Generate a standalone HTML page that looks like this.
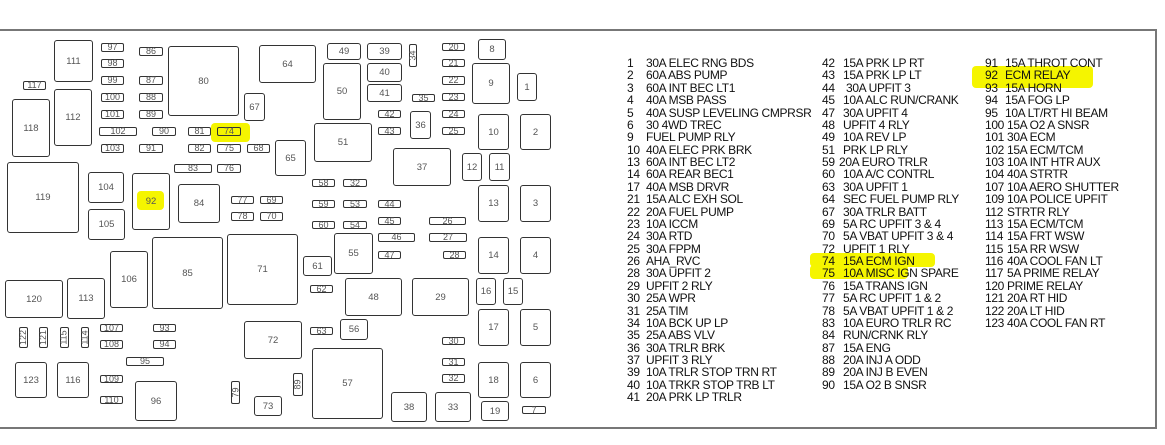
<!DOCTYPE html>
<html><head><meta charset="utf-8"><style>
html,body{margin:0;padding:0;background:#fff;}
body{width:1165px;height:445px;position:relative;overflow:hidden;font-family:"Liberation Sans",sans-serif;}
.frame{position:absolute;left:-3px;top:29px;width:1158px;height:396px;border:2px solid #777;border-left:none;}
.b,.s{position:absolute;box-sizing:border-box;border:1.4px solid #333;border-radius:3px;display:flex;align-items:center;justify-content:center;font-size:9.5px;color:#555;background:transparent;}
.s{border-width:1.2px;border-radius:2px;font-size:9px;line-height:1;}
.v span{display:inline-block;transform:rotate(-90deg);white-space:nowrap;}
.hl{position:absolute;background:#f5f500;border-radius:4px;}
.r{position:absolute;font-size:12px;letter-spacing:-0.35px;color:#111;white-space:nowrap;line-height:12px;}
</style></head><body>
<div class="frame"></div>
<!-- highlights -->
<div class="hl" style="left:211px;top:123px;width:39px;height:19px"></div>
<div class="hl" style="left:137px;top:191px;width:27px;height:19px"></div>
<div class="hl" style="left:972px;top:66px;width:121px;height:22px"></div>
<div class="hl" style="left:810px;top:253px;width:125px;height:14px"></div>
<div class="hl" style="left:810px;top:265px;width:98px;height:14px"></div>

<!-- diagram -->
<div class="b" style="left:54px;top:40px;width:39px;height:42px">111</div>
<div class="s" style="left:101px;top:43px;width:23px;height:9px">97</div>
<div class="s" style="left:101px;top:59px;width:23px;height:9px">98</div>
<div class="s" style="left:139px;top:47px;width:24px;height:9px">86</div>
<div class="b" style="left:168px;top:46px;width:71px;height:70px">80</div>
<div class="b" style="left:259px;top:45px;width:57px;height:38px">64</div>
<div class="s" style="left:23px;top:81px;width:23px;height:9px">117</div>
<div class="s" style="left:101px;top:76px;width:23px;height:9px">99</div>
<div class="s" style="left:139px;top:76px;width:24px;height:9px">87</div>
<div class="b" style="left:12px;top:99px;width:38px;height:58px">118</div>
<div class="b" style="left:54px;top:89px;width:38px;height:57px">112</div>
<div class="s" style="left:101px;top:93px;width:23px;height:9px">100</div>
<div class="s" style="left:139px;top:93px;width:24px;height:9px">88</div>
<div class="b" style="left:244px;top:93px;width:21px;height:28px">67</div>
<div class="s" style="left:101px;top:110px;width:23px;height:9px">101</div>
<div class="s" style="left:139px;top:110px;width:24px;height:9px">89</div>
<div class="s" style="left:99px;top:127px;width:38px;height:9px">102</div>
<div class="s" style="left:152px;top:127px;width:24px;height:9px">90</div>
<div class="s" style="left:188px;top:127px;width:23px;height:9px">81</div>
<div class="s" style="left:217px;top:127px;width:24px;height:9px">74</div>
<div class="s" style="left:101px;top:144px;width:23px;height:9px">103</div>
<div class="s" style="left:139px;top:144px;width:24px;height:9px">91</div>
<div class="s" style="left:188px;top:144px;width:23px;height:9px">82</div>
<div class="s" style="left:217px;top:144px;width:24px;height:9px">75</div>
<div class="s" style="left:247px;top:144px;width:23px;height:9px">68</div>
<div class="b" style="left:275px;top:140px;width:31px;height:36px">65</div>
<div class="b" style="left:7px;top:162px;width:72px;height:71px">119</div>
<div class="s" style="left:174px;top:164px;width:38px;height:9px">83</div>
<div class="s" style="left:217px;top:164px;width:24px;height:9px">76</div>
<div class="b" style="left:88px;top:172px;width:36px;height:31px">104</div>
<div class="b" style="left:132px;top:173px;width:38px;height:57px">92</div>
<div class="b" style="left:178px;top:184px;width:42px;height:39px">84</div>
<div class="s" style="left:231px;top:196px;width:23px;height:8px">77</div>
<div class="s" style="left:260px;top:196px;width:23px;height:8px">69</div>
<div class="s" style="left:231px;top:212px;width:23px;height:9px">78</div>
<div class="s" style="left:260px;top:212px;width:23px;height:9px">70</div>
<div class="b" style="left:88px;top:209px;width:37px;height:31px">105</div>

<div class="b" style="left:152px;top:237px;width:71px;height:72px">85</div>
<div class="b" style="left:227px;top:234px;width:71px;height:71px">71</div>
<div class="b" style="left:110px;top:251px;width:38px;height:57px">106</div>
<div class="b" style="left:5px;top:280px;width:58px;height:38px">120</div>
<div class="b" style="left:67px;top:278px;width:38px;height:41px">113</div>
<div class="s" style="left:100px;top:324px;width:23px;height:8px">107</div>
<div class="s" style="left:153px;top:324px;width:23px;height:8px">93</div>
<div class="s v" style="left:19px;top:327px;width:9px;height:21px"><span>122</span></div>
<div class="s v" style="left:39px;top:327px;width:9px;height:21px"><span>121</span></div>
<div class="s v" style="left:60px;top:327px;width:9px;height:21px"><span>115</span></div>
<div class="s v" style="left:81px;top:327px;width:8px;height:21px"><span>114</span></div>
<div class="s" style="left:100px;top:340px;width:23px;height:9px">108</div>
<div class="s" style="left:153px;top:340px;width:23px;height:9px">94</div>
<div class="b" style="left:244px;top:321px;width:58px;height:38px">72</div>
<div class="s" style="left:126px;top:357px;width:38px;height:9px">95</div>
<div class="b" style="left:15px;top:362px;width:32px;height:36px">123</div>
<div class="b" style="left:57px;top:362px;width:32px;height:36px">116</div>
<div class="s" style="left:100px;top:375px;width:23px;height:8px">109</div>
<div class="s" style="left:100px;top:396px;width:23px;height:8px">110</div>
<div class="b" style="left:135px;top:381px;width:42px;height:40px">96</div>
<div class="s v" style="left:231px;top:381px;width:9px;height:23px"><span>79</span></div>
<div class="b" style="left:254px;top:396px;width:28px;height:20px">73</div>
<div class="s v" style="left:293px;top:373px;width:10px;height:23px"><span>89</span></div>

<div class="b" style="left:327px;top:43px;width:34px;height:17px">49</div>
<div class="b" style="left:367px;top:43px;width:35px;height:17px">39</div>
<div class="s v" style="left:409px;top:44px;width:8px;height:23px"><span>34</span></div>
<div class="s" style="left:442px;top:43px;width:23px;height:8px">20</div>
<div class="b" style="left:478px;top:39px;width:28px;height:21px">8</div>
<div class="b" style="left:323px;top:63px;width:38px;height:57px">50</div>
<div class="b" style="left:367px;top:63px;width:35px;height:19px">40</div>
<div class="s" style="left:442px;top:59px;width:23px;height:8px">21</div>
<div class="b" style="left:472px;top:63px;width:38px;height:41px">9</div>
<div class="b" style="left:517px;top:73px;width:20px;height:28px">1</div>
<div class="s" style="left:442px;top:76px;width:23px;height:9px">22</div>
<div class="b" style="left:367px;top:84px;width:35px;height:18px">41</div>
<div class="s" style="left:412px;top:94px;width:23px;height:8px">35</div>
<div class="s" style="left:442px;top:93px;width:23px;height:8px">23</div>
<div class="s" style="left:378px;top:110px;width:23px;height:8px">42</div>
<div class="b" style="left:410px;top:111px;width:21px;height:28px">36</div>
<div class="s" style="left:442px;top:110px;width:23px;height:8px">24</div>
<div class="b" style="left:478px;top:114px;width:31px;height:36px">10</div>
<div class="b" style="left:520px;top:114px;width:31px;height:36px">2</div>
<div class="s" style="left:378px;top:127px;width:23px;height:8px">43</div>
<div class="s" style="left:442px;top:127px;width:23px;height:8px">25</div>
<div class="b" style="left:314px;top:123px;width:58px;height:39px">51</div>
<div class="b" style="left:393px;top:148px;width:58px;height:38px">37</div>
<div class="b" style="left:462px;top:153px;width:20px;height:28px">12</div>
<div class="b" style="left:489px;top:153px;width:21px;height:28px">11</div>
<div class="s" style="left:312px;top:179px;width:23px;height:8px">58</div>
<div class="s" style="left:343px;top:179px;width:24px;height:8px">32</div>
<div class="b" style="left:478px;top:185px;width:31px;height:37px">13</div>
<div class="b" style="left:520px;top:185px;width:31px;height:37px">3</div>
<div class="s" style="left:312px;top:200px;width:23px;height:8px">59</div>
<div class="s" style="left:343px;top:200px;width:24px;height:8px">53</div>
<div class="s" style="left:378px;top:200px;width:23px;height:8px">44</div>
<div class="s" style="left:312px;top:221px;width:23px;height:8px">60</div>
<div class="s" style="left:343px;top:221px;width:24px;height:8px">54</div>
<div class="s" style="left:378px;top:217px;width:23px;height:8px">45</div>
<div class="s" style="left:429px;top:217px;width:37px;height:8px">26</div>

<div class="s" style="left:378px;top:233px;width:37px;height:9px">46</div>
<div class="s" style="left:429px;top:233px;width:38px;height:9px">27</div>
<div class="b" style="left:478px;top:237px;width:31px;height:37px">14</div>
<div class="b" style="left:520px;top:237px;width:31px;height:37px">4</div>
<div class="b" style="left:334px;top:233px;width:39px;height:41px">55</div>
<div class="s" style="left:378px;top:251px;width:23px;height:8px">47</div>
<div class="s" style="left:443px;top:251px;width:23px;height:8px">28</div>
<div class="b" style="left:303px;top:256px;width:29px;height:20px">61</div>
<div class="s" style="left:310px;top:285px;width:23px;height:8px">62</div>
<div class="b" style="left:345px;top:278px;width:57px;height:38px">48</div>
<div class="b" style="left:412px;top:278px;width:57px;height:38px">29</div>
<div class="b" style="left:476px;top:278px;width:20px;height:27px">16</div>
<div class="b" style="left:503px;top:278px;width:20px;height:27px">15</div>
<div class="b" style="left:478px;top:309px;width:31px;height:37px">17</div>
<div class="b" style="left:520px;top:309px;width:31px;height:37px">5</div>
<div class="s" style="left:310px;top:327px;width:23px;height:8px">63</div>
<div class="b" style="left:340px;top:319px;width:28px;height:21px">56</div>
<div class="s" style="left:442px;top:337px;width:23px;height:8px">30</div>
<div class="b" style="left:312px;top:348px;width:71px;height:71px">57</div>
<div class="s" style="left:442px;top:358px;width:23px;height:8px">31</div>
<div class="s" style="left:442px;top:374px;width:23px;height:9px">32</div>
<div class="b" style="left:478px;top:362px;width:31px;height:36px">18</div>
<div class="b" style="left:520px;top:362px;width:31px;height:36px">6</div>
<div class="b" style="left:391px;top:392px;width:36px;height:30px">38</div>
<div class="b" style="left:435px;top:392px;width:36px;height:30px">33</div>
<div class="b" style="left:481px;top:401px;width:28px;height:20px">19</div>
<div class="s" style="left:522px;top:406px;width:24px;height:8px">7</div>

<!-- legend col1 -->
<div class="r" style="left:627px;top:57px">1</div><div class="r" style="left:646px;top:57px">30A ELEC RNG BDS</div>
<div class="r" style="left:627px;top:69px">2</div><div class="r" style="left:646px;top:69px">60A ABS PUMP</div>
<div class="r" style="left:627px;top:82px">3</div><div class="r" style="left:646px;top:82px">60A INT BEC LT1</div>
<div class="r" style="left:627px;top:94px">4</div><div class="r" style="left:646px;top:94px">40A MSB PASS</div>
<div class="r" style="left:627px;top:107px">5</div><div class="r" style="left:646px;top:107px">40A SUSP LEVELING CMPRSR</div>
<div class="r" style="left:627px;top:119px">6</div><div class="r" style="left:646px;top:119px">30 4WD TREC</div>
<div class="r" style="left:627px;top:131px">9</div><div class="r" style="left:646px;top:131px">FUEL PUMP RLY</div>
<div class="r" style="left:627px;top:144px">10</div><div class="r" style="left:646px;top:144px">40A ELEC PRK BRK</div>
<div class="r" style="left:627px;top:156px">13</div><div class="r" style="left:646px;top:156px">60A INT BEC LT2</div>
<div class="r" style="left:627px;top:168px">14</div><div class="r" style="left:646px;top:168px">60A REAR BEC1</div>
<div class="r" style="left:627px;top:181px">17</div><div class="r" style="left:646px;top:181px">40A MSB DRVR</div>
<div class="r" style="left:627px;top:193px">21</div><div class="r" style="left:646px;top:193px">15A ALC EXH SOL</div>
<div class="r" style="left:627px;top:206px">22</div><div class="r" style="left:646px;top:206px">20A FUEL PUMP</div>
<div class="r" style="left:627px;top:218px">23</div><div class="r" style="left:646px;top:218px">10A ICCM</div>
<div class="r" style="left:627px;top:230px">24</div><div class="r" style="left:646px;top:230px">30A RTD</div>
<div class="r" style="left:627px;top:243px">25</div><div class="r" style="left:646px;top:243px">30A FPPM</div>
<div class="r" style="left:627px;top:255px">26</div><div class="r" style="left:646px;top:255px">AHA_RVC</div>
<div class="r" style="left:627px;top:267px">28</div><div class="r" style="left:646px;top:267px">30A UPFIT 2</div>
<div class="r" style="left:627px;top:280px">29</div><div class="r" style="left:646px;top:280px">UPFIT 2 RLY</div>
<div class="r" style="left:627px;top:292px">30</div><div class="r" style="left:646px;top:292px">25A WPR</div>
<div class="r" style="left:627px;top:305px">31</div><div class="r" style="left:646px;top:305px">25A TIM</div>
<div class="r" style="left:627px;top:317px">34</div><div class="r" style="left:646px;top:317px">10A BCK UP LP</div>
<div class="r" style="left:627px;top:329px">35</div><div class="r" style="left:646px;top:329px">25A ABS VLV</div>
<div class="r" style="left:627px;top:342px">36</div><div class="r" style="left:646px;top:342px">30A TRLR BRK</div>
<div class="r" style="left:627px;top:354px">37</div><div class="r" style="left:646px;top:354px">UPFIT 3 RLY</div>
<div class="r" style="left:627px;top:366px">39</div><div class="r" style="left:646px;top:366px">10A TRLR STOP TRN RT</div>
<div class="r" style="left:627px;top:379px">40</div><div class="r" style="left:646px;top:379px">10A TRKR STOP TRB LT</div>
<div class="r" style="left:627px;top:391px">41</div><div class="r" style="left:646px;top:391px">20A PRK LP TRLR</div>
<!-- col2 -->
<div class="r" style="left:822px;top:57px">42</div><div class="r" style="left:843px;top:57px">15A PRK LP RT</div>
<div class="r" style="left:822px;top:69px">43</div><div class="r" style="left:843px;top:69px">15A PRK LP LT</div>
<div class="r" style="left:822px;top:82px">44</div><div class="r" style="left:846px;top:82px">30A UPFIT 3</div>
<div class="r" style="left:822px;top:94px">45</div><div class="r" style="left:843px;top:94px">10A ALC RUN/CRANK</div>
<div class="r" style="left:822px;top:107px">47</div><div class="r" style="left:843px;top:107px">30A UPFIT 4</div>
<div class="r" style="left:822px;top:119px">48</div><div class="r" style="left:843px;top:119px">UPFIT 4 RLY</div>
<div class="r" style="left:822px;top:131px">49</div><div class="r" style="left:843px;top:131px">10A REV LP</div>
<div class="r" style="left:822px;top:144px">51</div><div class="r" style="left:843px;top:144px">PRK LP RLY</div>
<div class="r" style="left:822px;top:156px">59</div><div class="r" style="left:839px;top:156px">20A EURO TRLR</div>
<div class="r" style="left:822px;top:168px">60</div><div class="r" style="left:843px;top:168px">10A A/C CONTRL</div>
<div class="r" style="left:822px;top:181px">63</div><div class="r" style="left:843px;top:181px">30A UPFIT 1</div>
<div class="r" style="left:822px;top:193px">64</div><div class="r" style="left:843px;top:193px">SEC FUEL PUMP RLY</div>
<div class="r" style="left:822px;top:206px">67</div><div class="r" style="left:843px;top:206px">30A TRLR BATT</div>
<div class="r" style="left:822px;top:218px">69</div><div class="r" style="left:843px;top:218px">5A RC UPFIT 3 &amp; 4</div>
<div class="r" style="left:822px;top:230px">70</div><div class="r" style="left:843px;top:230px">5A VBAT UPFIT 3 &amp; 4</div>
<div class="r" style="left:822px;top:243px">72</div><div class="r" style="left:843px;top:243px">UPFIT 1 RLY</div>
<div class="r" style="left:822px;top:255px">74</div><div class="r" style="left:843px;top:255px">15A ECM IGN</div>
<div class="r" style="left:822px;top:267px">75</div><div class="r" style="left:843px;top:267px">10A MISC IGN SPARE</div>
<div class="r" style="left:822px;top:280px">76</div><div class="r" style="left:843px;top:280px">15A TRANS IGN</div>
<div class="r" style="left:822px;top:292px">77</div><div class="r" style="left:843px;top:292px">5A RC UPFIT 1 &amp; 2</div>
<div class="r" style="left:822px;top:305px">78</div><div class="r" style="left:843px;top:305px">5A VBAT UPFIT 1 &amp; 2</div>
<div class="r" style="left:822px;top:317px">83</div><div class="r" style="left:843px;top:317px">10A EURO TRLR RC</div>
<div class="r" style="left:822px;top:329px">84</div><div class="r" style="left:843px;top:329px">RUN/CRNK RLY</div>
<div class="r" style="left:822px;top:342px">87</div><div class="r" style="left:843px;top:342px">15A ENG</div>
<div class="r" style="left:822px;top:354px">88</div><div class="r" style="left:843px;top:354px">20A INJ A ODD</div>
<div class="r" style="left:822px;top:366px">89</div><div class="r" style="left:843px;top:366px">20A INJ B EVEN</div>
<div class="r" style="left:822px;top:379px">90</div><div class="r" style="left:843px;top:379px">15A O2 B SNSR</div>
<!-- col3 -->
<div class="r" style="left:985px;top:57px">91</div><div class="r" style="left:1005px;top:57px">15A THROT CONT</div>
<div class="r" style="left:985px;top:69px">92</div><div class="r" style="left:1005px;top:69px">ECM RELAY</div>
<div class="r" style="left:985px;top:82px">93</div><div class="r" style="left:1005px;top:82px">15A HORN</div>
<div class="r" style="left:985px;top:94px">94</div><div class="r" style="left:1005px;top:94px">15A FOG LP</div>
<div class="r" style="left:985px;top:107px">95</div><div class="r" style="left:1005px;top:107px">10A LT/RT HI BEAM</div>
<div class="r" style="left:985px;top:119px">100</div><div class="r" style="left:1007px;top:119px">15A O2 A SNSR</div>
<div class="r" style="left:985px;top:131px">101</div><div class="r" style="left:1007px;top:131px">30A ECM</div>
<div class="r" style="left:985px;top:144px">102</div><div class="r" style="left:1007px;top:144px">15A ECM/TCM</div>
<div class="r" style="left:985px;top:156px">103</div><div class="r" style="left:1007px;top:156px">10A INT HTR AUX</div>
<div class="r" style="left:985px;top:168px">104</div><div class="r" style="left:1007px;top:168px">40A STRTR</div>
<div class="r" style="left:985px;top:181px">107</div><div class="r" style="left:1007px;top:181px">10A AERO SHUTTER</div>
<div class="r" style="left:985px;top:193px">109</div><div class="r" style="left:1007px;top:193px">10A POLICE UPFIT</div>
<div class="r" style="left:985px;top:206px">112</div><div class="r" style="left:1007px;top:206px">STRTR RLY</div>
<div class="r" style="left:985px;top:218px">113</div><div class="r" style="left:1007px;top:218px">15A ECM/TCM</div>
<div class="r" style="left:985px;top:230px">114</div><div class="r" style="left:1007px;top:230px">15A FRT WSW</div>
<div class="r" style="left:985px;top:243px">115</div><div class="r" style="left:1007px;top:243px">15A RR WSW</div>
<div class="r" style="left:985px;top:255px">116</div><div class="r" style="left:1007px;top:255px">40A COOL FAN LT</div>
<div class="r" style="left:985px;top:267px">117</div><div class="r" style="left:1007px;top:267px">5A PRIME RELAY</div>
<div class="r" style="left:985px;top:280px">120</div><div class="r" style="left:1007px;top:280px">PRIME RELAY</div>
<div class="r" style="left:985px;top:292px">121</div><div class="r" style="left:1007px;top:292px">20A RT HID</div>
<div class="r" style="left:985px;top:305px">122</div><div class="r" style="left:1007px;top:305px">20A LT HID</div>
<div class="r" style="left:985px;top:317px">123</div><div class="r" style="left:1007px;top:317px">40A COOL FAN RT</div>
</body></html>
